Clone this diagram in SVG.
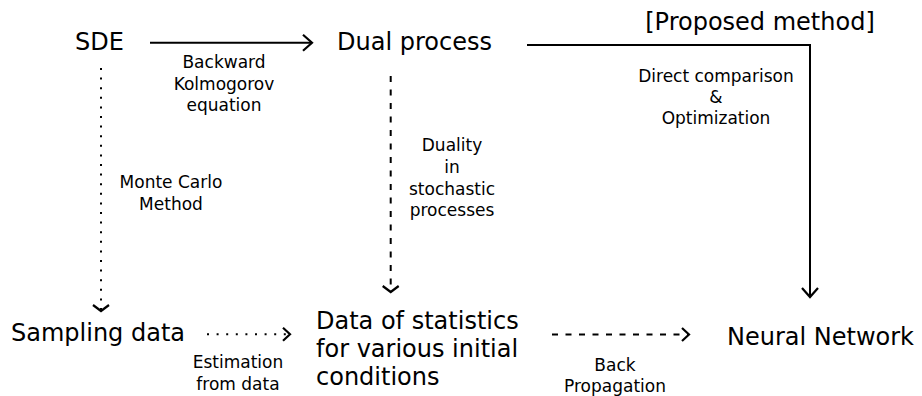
<svg xmlns="http://www.w3.org/2000/svg" width="922" height="396" viewBox="0 0 922 396">
<style>
.big{font-family:"DejaVu Sans","Liberation Sans",sans-serif;font-size:24px;fill:#000}
.sm{font-family:"DejaVu Sans","Liberation Sans",sans-serif;font-size:17px;fill:#000;text-anchor:middle}
.ln{fill:none;stroke:#000;stroke-width:2}
.dot{stroke-dasharray:2 7.6}
.dash{stroke-dasharray:6 7.5}
</style>
<defs>
<marker id="ah" markerUnits="userSpaceOnUse" viewBox="-12 -12 14 24" markerWidth="14" markerHeight="24" refX="0" refY="0" orient="auto" overflow="visible">
<path d="M-9,-8 L0,0 L-9,8" fill="none" stroke="#000" stroke-width="2.2"/>
</marker>
<marker id="ahs" markerUnits="userSpaceOnUse" viewBox="-12 -12 14 24" markerWidth="14" markerHeight="24" refX="0" refY="0" orient="auto" overflow="visible">
<path d="M-7,-6.5 L0,0 L-7,6.5" fill="none" stroke="#000" stroke-width="2.2"/>
</marker>
<marker id="ahv" markerUnits="userSpaceOnUse" viewBox="-12 -12 14 24" markerWidth="14" markerHeight="24" refX="0" refY="0" orient="auto" overflow="visible">
<path d="M-6,-8 L0,0 L-6,8" fill="none" stroke="#000" stroke-width="2.2"/>
</marker>
</defs>
<rect width="922" height="396" fill="#fff"/>
<g id="connectors">
<path class="ln" d="M150,42.7 H312" marker-end="url(#ah)"/>
<path class="ln" d="M527,45 H810 V297" marker-end="url(#ah)"/>
<path class="ln dot" d="M101,68 V311" marker-end="url(#ahv)"/>
<path class="ln dash" d="M390.7,76 V292" marker-end="url(#ahv)"/>
<path class="ln dot" d="M207,334.3 H290" marker-end="url(#ahs)"/>
<path class="ln dash" d="M552,334.5 H689" marker-end="url(#ahs)"/>
</g>
<g id="labels">
<text class="sm" x="224" y="68">Backward</text>
<text class="sm" x="224" y="90">Kolmogorov</text>
<text class="sm" x="224" y="111">equation</text>
<text class="sm" x="171" y="188">Monte Carlo</text>
<text class="sm" x="171" y="210">Method</text>
<text class="sm" x="452" y="151">Duality</text>
<text class="sm" x="452" y="173">in</text>
<text class="sm" x="452" y="195">stochastic</text>
<text class="sm" x="452" y="216">processes</text>
<text class="sm" x="716" y="82">Direct comparison</text>
<text class="sm" x="716" y="103">&amp;</text>
<text class="sm" x="716" y="124">Optimization</text>
<text class="sm" x="238" y="368">Estimation</text>
<text class="sm" x="238" y="390">from data</text>
<text class="sm" x="615" y="371">Back</text>
<text class="sm" x="615" y="392">Propagation</text>
<text class="big" x="760" y="30" text-anchor="middle">[Proposed method]</text>
</g>
<g id="sde"><text class="big" x="75" y="50">SDE</text></g>
<g id="dual"><text class="big" x="337" y="50">Dual process</text></g>
<g id="sampling"><text class="big" x="11" y="341">Sampling data</text></g>
<g id="stats">
<text class="big" x="316" y="329">Data of statistics</text>
<text class="big" x="316" y="357">for various initial</text>
<text class="big" x="316" y="385">conditions</text>
</g>
<g id="nn"><text class="big" x="727" y="345">Neural Network</text></g>
</svg>
